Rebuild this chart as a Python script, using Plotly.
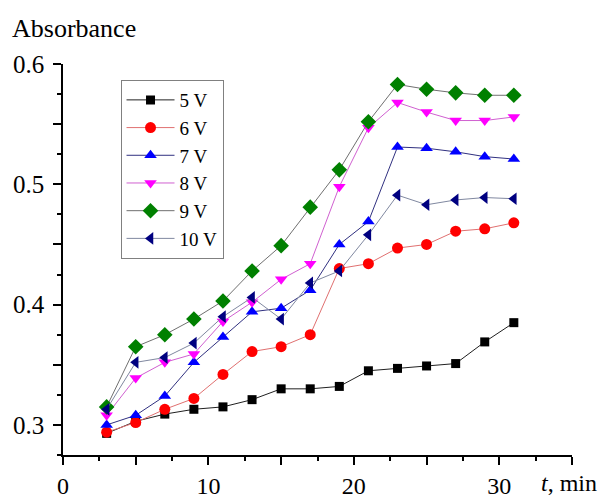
import plotly.graph_objects as go

time_min = [3, 5, 7, 9, 11, 13, 15, 17, 19, 21, 23, 25, 27, 29, 31]
abs_5v = [0.293, 0.303, 0.309, 0.313, 0.315, 0.321, 0.330, 0.330, 0.332, 0.345, 0.347, 0.349, 0.351, 0.369, 0.385]
abs_6v = [0.294, 0.302, 0.313, 0.322, 0.342, 0.361, 0.365, 0.375, 0.430, 0.434, 0.447, 0.450, 0.461, 0.463, 0.468]
abs_7v = [0.300, 0.308, 0.324, 0.352, 0.373, 0.394, 0.397, 0.412, 0.450, 0.469, 0.531, 0.530, 0.527, 0.523, 0.521]
abs_8v = [0.308, 0.339, 0.352, 0.359, 0.386, 0.402, 0.421, 0.434, 0.498, 0.547, 0.568, 0.560, 0.553, 0.553, 0.556]
abs_9v = [0.315, 0.365, 0.375, 0.388, 0.403, 0.428, 0.449, 0.481, 0.512, 0.552, 0.583, 0.579, 0.576, 0.574, 0.574]
abs_10v = [0.313, 0.352, 0.356, 0.368, 0.390, 0.406, 0.388, 0.418, 0.428, 0.458, 0.491, 0.483, 0.487, 0.489, 0.488]

series_names = ["5 V", "6 V", "7 V", "8 V", "9 V", "10 V"]
series_values = [abs_5v, abs_6v, abs_7v, abs_8v, abs_9v, abs_10v]

y_tickvals = [0.3, 0.35, 0.4, 0.45, 0.5, 0.55, 0.6]
y_ticktext = ["0.3", "", "0.4", "", "0.5", "", "0.6"]
x_tickvals = [0, 5, 10, 15, 20, 25, 30, 35]
x_ticktext = ["0", "", "10", "", "20", "", "30", ""]

styles = [
    dict(symbol="square", size=9, color="#000000", line="#202020"),
    dict(symbol="circle", size=11, color="#ff0000", line="#e07070"),
    dict(symbol="triangle-up", size=11, color="#0000ff", line="#303080"),
    dict(symbol="triangle-down", size=11, color="#ff00ff", line="#d060d0"),
    dict(symbol="diamond", size=12, color="#008000", line="#707070"),
    dict(symbol="triangle-left", size=11, color="#000080", line="#8088a0"),
]

FONT = "Times New Roman, Liberation Serif, DejaVu Serif, serif"

fig = go.Figure()
for name, vals, st in zip(series_names, series_values, styles):
    fig.add_trace(go.Scatter(
        x=time_min, y=vals, name=name, mode="lines+markers",
        line=dict(color=st["line"], width=1),
        marker=dict(symbol=st["symbol"], size=st["size"], color=st["color"], line=dict(width=0)),
    ))

fig.update_layout(
    width=604, height=495,
    margin=dict(l=63, r=32, t=64, b=40),
    paper_bgcolor="white", plot_bgcolor="white",
    font=dict(family=FONT, size=24, color="black"),
    showlegend=True,
    legend=dict(
        x=0.113, y=0.959, xanchor="left", yanchor="top",
        bgcolor="white", bordercolor="#808080", borderwidth=1,
        font=dict(family=FONT, size=19, color="black"),
        tracegroupgap=0, itemwidth=48,
    ),
    xaxis=dict(
        range=[0, 35], showgrid=False, zeroline=False, automargin=False,
        showline=True, linecolor="black", linewidth=1.5,
        ticks="outside", ticklen=8, tickwidth=1.5, tickcolor="black",
        tickvals=x_tickvals, ticktext=x_ticktext,
        ticklabelstandoff=0, tickfont=dict(family=FONT, size=24),
        minor=dict(dtick=2.5, tick0=0, ticks="outside", ticklen=4, tickwidth=1.5, tickcolor="black"),
    ),
    yaxis=dict(
        range=[0.275, 0.6], showgrid=False, zeroline=False, automargin=False,
        showline=True, linecolor="black", linewidth=1.5,
        ticks="outside", ticklen=8, tickwidth=1.5, tickcolor="black",
        tickvals=y_tickvals, ticktext=y_ticktext,
        ticklabelstandoff=4, tickfont=dict(family=FONT, size=25),
        minor=dict(dtick=0.025, tick0=0, ticks="outside", ticklen=4, tickwidth=1.5, tickcolor="black"),
    ),
    annotations=[
        dict(text="Absorbance", xref="paper", yref="paper", x=-0.104, y=1.092,
             xanchor="left", yanchor="middle", showarrow=False,
             font=dict(family=FONT, size=26, color="black")),
        dict(text="<i>t</i>, min", xref="paper", yref="paper", x=0.935, y=-0.072,
             xanchor="left", yanchor="middle", showarrow=False,
             font=dict(family=FONT, size=24, color="black")),
    ],
)

fig.write_html("out.html", config={"displayModeBar": False},
               post_script="document.body.style.margin='0';document.body.style.padding='0';")
